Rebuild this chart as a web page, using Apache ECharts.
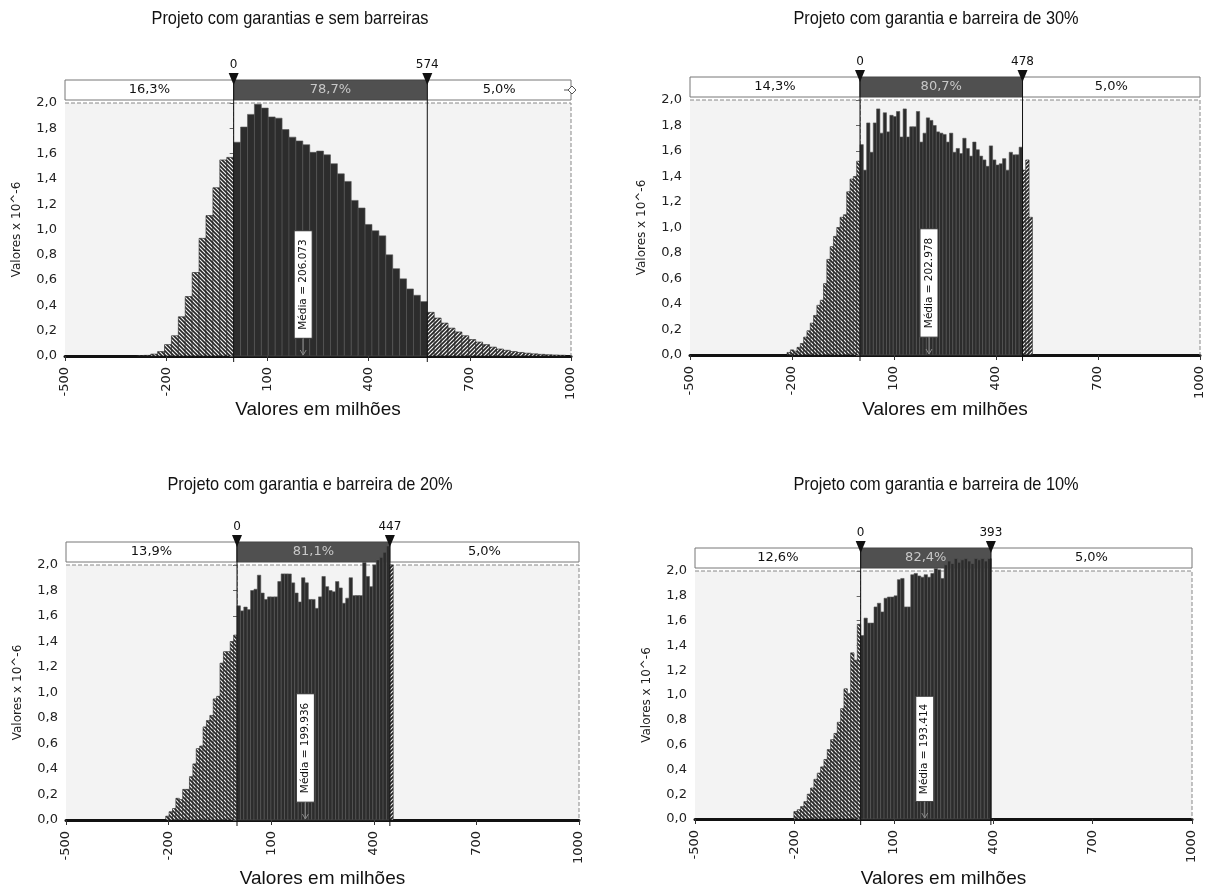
<!DOCTYPE html>
<html><head><meta charset="utf-8">
<script src="https://cdn.jsdelivr.net/npm/echarts@6/dist/echarts.min.js"></script>
<style>html,body{margin:0;padding:0;background:#fff}#c{width:1208px;height:893px}</style>
</head><body><div id="c"></div>
<script>
// ---------- DATA ----------
const titles = [
  'Projeto com garantias e sem barreiras',
  'Projeto com garantia e barreira de 30%',
  'Projeto com garantia e barreira de 20%',
  'Projeto com garantia e barreira de 10%'
];
const xAxisName = 'Valores em milhões';
const yAxisName = 'Valores x 10^-6';
const xTickValues = [-500, -200, 100, 400, 700, 1000];
const lowMarkers = [0, 0, 0, 0];
const highMarkers = [574, 478, 447, 393];
const leftPct = ['16,3%', '14,3%', '13,9%', '12,6%'];
const midPct = ['78,7%', '80,7%', '81,1%', '82,4%'];
const rightPct = ['5,0%', '5,0%', '5,0%', '5,0%'];
const means = ['206.073', '202.978', '199.936', '193.414'];
const binStarts = [-287, -214.5, -208.5, -201.6];
const binWidths = [20.5, 9.75, 9.93, 10.08];

const values1 = [0.003,0.005,0.015,0.035,0.09,0.16,0.31,0.47,0.66,0.93,1.11,1.33,1.55,1.57,
  1.69,1.81,1.91,1.99,1.96,1.89,1.88,1.79,1.73,1.70,1.67,1.61,1.62,1.59,1.52,1.44,1.38,1.23,1.17,1.04,0.99,0.95,0.80,0.69,0.61,0.53,0.48,0.43,
  0.345,0.30,0.26,0.22,0.19,0.16,0.13,0.11,0.09,0.07,0.055,0.045,0.035,0.028,0.022,0.017,0.013,0.01,0.008,0.006];
const values2 = [0.02,0.04,0.03,0.06,0.09,0.14,0.19,0.25,0.31,0.39,0.43,0.56,0.75,0.85,0.93,1.00,1.08,1.10,1.28,1.38,1.40,1.52,
  1.65,1.45,1.82,1.59,1.82,1.93,1.74,1.90,1.75,1.88,1.87,1.91,1.71,1.93,1.71,1.79,1.79,1.91,1.67,1.74,
  1.86,1.84,1.80,1.75,1.74,1.73,1.67,1.74,1.59,1.62,1.58,1.70,1.62,1.56,1.67,1.61,1.56,1.53,1.48,1.64,
  1.53,1.49,1.50,1.54,1.45,1.59,1.57,1.57,1.63,
  1.45,1.53,1.08];
const values3 = [0.03,0.065,0.09,0.17,0.16,0.24,0.24,0.34,0.44,0.56,0.58,0.73,0.78,0.82,0.95,0.97,1.23,1.32,1.32,1.40,1.45,
  1.68,1.64,1.67,1.65,1.80,1.81,1.92,1.78,1.73,1.75,1.75,1.75,1.87,1.93,1.93,1.93,1.86,1.78,1.71,1.90,1.86,1.73,1.73,1.66,
  1.75,1.91,1.83,1.80,1.79,1.87,1.82,1.70,1.74,1.90,1.76,1.76,1.76,2.02,1.91,1.83,2.0,2.04,2.06,2.10,2.15,
  2.0];
const values4 = [0.06,0.075,0.10,0.14,0.20,0.25,0.32,0.37,0.42,0.48,0.56,0.64,0.69,0.78,0.89,1.05,1.01,1.34,1.28,1.57,
  1.48,1.62,1.58,1.58,1.71,1.74,1.67,1.78,1.79,1.79,1.80,1.93,1.94,1.71,1.71,1.97,1.98,1.96,1.95,1.97,1.95,1.98,2.02,2.01,1.94,
  2.05,2.08,2.06,2.10,2.07,2.09,2.10,2.08,2.06,2.10,2.09,2.10,2.08,2.10];
const allValues = [values1, values2, values3, values4];

// ---------- LAYOUT ----------
const grids = [
  {left: 65, top: 103, width: 506, height: 253},
  {left: 690, top: 100, width: 510, height: 255},
  {left: 66, top: 565, width: 513, height: 255},
  {left: 695, top: 571, width: 497, height: 248}
];
const titlePos = [[290, 19], [936, 19], [310, 485], [936, 485]];
const xNameY = [410, 410, 879, 879];
const TFONT = "'Liberation Sans', Arial, sans-serif";
const SANS = "'DejaVu Sans', Verdana, sans-serif";

function makeHatch(back) {
  const c = document.createElement('canvas');
  c.width = 4; c.height = 4;
  const g = c.getContext('2d');
  g.fillStyle = '#262626'; g.fillRect(0, 0, 4, 4);
  g.strokeStyle = '#f2f2f2'; g.lineWidth = 1.2;
  g.beginPath();
  if (back) {
    g.moveTo(-1, -1); g.lineTo(5, 5); g.moveTo(-1, 3); g.lineTo(1, 5); g.moveTo(3, -1); g.lineTo(5, 1);
  } else {
    g.moveTo(-1, 5); g.lineTo(5, -1); g.moveTo(-1, 1); g.lineTo(1, -1); g.moveTo(3, 5); g.lineTo(5, 3);
  }
  g.stroke();
  return c;
}
const hatchBack = {image: makeHatch(true), repeat: 'repeat'};
const hatchFwd = {image: makeHatch(false), repeat: 'repeat'};

function makeRender(p) {
  const lo = lowMarkers[p], hi = highMarkers[p];
  return function (params, api) {
    const s = api.value(0), e = api.value(1), v = api.value(2);
    const segs = [];
    if (s < lo) segs.push([s, Math.min(e, lo), 'L']);
    if (e > lo && s < hi) segs.push([Math.max(s, lo), Math.min(e, hi), 'M']);
    if (e > hi) segs.push([Math.max(s, hi), e, 'R']);
    const children = [];
    segs.forEach(function (sg) {
      if (sg[1] - sg[0] <= 0) return;
      const p0 = api.coord([sg[0], v]);
      const p1 = api.coord([sg[1], 0]);
      let style;
      if (sg[2] === 'M') style = {fill: '#2c2c2c', stroke: '#565656', lineWidth: 0.6};
      else style = {fill: sg[2] === 'L' ? hatchBack : hatchFwd, stroke: '#1e1e1e', lineWidth: 0.6};
      children.push({type: 'rect', shape: {x: p0[0], y: p0[1], width: p1[0] - p0[0], height: p1[1] - p0[1]}, style: style});
    });
    return {type: 'group', children: children};
  };
}

const fmtY = v => v.toFixed(1).replace('.', ',');

const option = {
  animation: false,
  backgroundColor: '#fff',
  grid: grids.map(g => Object.assign({show: true, backgroundColor: '#f3f3f3', borderWidth: 0}, g)),
  xAxis: grids.map((g, i) => ({
    gridIndex: i, type: 'value', min: -500, max: 1000,
    axisLine: {show: true, onZero: false, lineStyle: {color: '#111', width: 3}},
    axisTick: {show: true, customValues: xTickValues, length: 5, lineStyle: {color: '#333'}},
    axisLabel: {customValues: xTickValues, formatter: v => String(v), rotate: 90, margin: 11, fontFamily: SANS, fontSize: 13, color: '#222'},
    splitLine: {show: false}
  })),
  yAxis: grids.map((g, i) => ({
    gridIndex: i, type: 'value', min: 0, max: 2, interval: 0.2,
    name: yAxisName, nameLocation: 'middle', nameGap: 42,
    nameTextStyle: {fontFamily: SANS, fontSize: 12, color: '#222'},
    axisLine: {show: true, lineStyle: {color: '#888', type: [4, 2], width: 1}},
    axisTick: {show: true, length: 4, lineStyle: {color: '#666'}},
    axisLabel: {formatter: fmtY, margin: 8, fontFamily: SANS, fontSize: 13, color: '#222'},
    splitLine: {show: false}
  })),
  series: allValues.map((vals, i) => ({
    type: 'custom', xAxisIndex: i, yAxisIndex: i, clip: false, z: 3,
    renderItem: makeRender(i),
    encode: {x: [0, 1], y: 2},
    data: vals.map((v, k) => [binStarts[i] + k * binWidths[i], binStarts[i] + (k + 1) * binWidths[i], v])
  }))
};

const chart = echarts.init(document.getElementById('c'), null, {renderer: 'canvas'});
chart.setOption(option);

// ---------- DECORATIONS via axis scales ----------
const els = [];
grids.forEach(function (g, i) {
  const px = v => chart.convertToPixel({xAxisIndex: i}, v);
  const py = v => chart.convertToPixel({yAxisIndex: i}, v);
  const left = px(-500), right = px(1000), top = py(2), base = py(0);
  const xl = px(lowMarkers[i]), xh = px(highMarkers[i]);
  const bandTop = top - 23, bandH = 20;
  // title and x-axis name
  els.push({type: 'text', z: 10, x: titlePos[i][0], y: titlePos[i][1], scaleX: 0.86,
    style: {text: titles[i], font: '19px ' + TFONT, fill: '#111', align: 'center', verticalAlign: 'middle'}});
  els.push({type: 'text', z: 10, x: (left + right) / 2, y: xNameY[i],
    style: {text: xAxisName, font: '19px ' + TFONT, fill: '#111', align: 'center', verticalAlign: 'middle'}});
  // dashed top/right border
  els.push({type: 'polyline', z: 1, shape: {points: [[left, top], [right, top], [right, base]]},
    style: {stroke: '#888', lineWidth: 1, lineDash: [4, 2], fill: null}});
  // band boxes
  els.push({type: 'rect', z: 1, shape: {x: left, y: bandTop, width: xl - left, height: bandH}, style: {fill: '#fff', stroke: '#777', lineWidth: 1}});
  els.push({type: 'rect', z: 1, shape: {x: xl, y: bandTop, width: xh - xl, height: bandH}, style: {fill: '#505050', stroke: '#444', lineWidth: 1}});
  els.push({type: 'rect', z: 1, shape: {x: xh, y: bandTop, width: right - xh, height: bandH}, style: {fill: '#fff', stroke: '#777', lineWidth: 1}});
  if (i === 0) {
    const cy = bandTop + bandH / 2;
    els.push({type: 'polygon', z: 10, shape: {points: [[right - 3, cy], [right + 1, cy - 4], [right + 5, cy], [right + 1, cy + 4]]},
      style: {fill: '#fff', stroke: '#555', lineWidth: 1}});
    els.push({type: 'line', z: 10, shape: {x1: right - 7, y1: cy, x2: right - 3, y2: cy}, style: {stroke: '#555', lineWidth: 1}});
  }
  els.push({type: 'text', z: 10, x: (left + xl) / 2, y: bandTop + bandH / 2,
    style: {text: leftPct[i], font: '13px ' + SANS, fill: '#111', align: 'center', verticalAlign: 'middle'}});
  els.push({type: 'text', z: 10, x: (xl + xh) / 2, y: bandTop + bandH / 2,
    style: {text: midPct[i], font: '13px ' + SANS, fill: '#c8c8c8', align: 'center', verticalAlign: 'middle'}});
  els.push({type: 'text', z: 10, x: (xh + right) / 2, y: bandTop + bandH / 2,
    style: {text: rightPct[i], font: '13px ' + SANS, fill: '#111', align: 'center', verticalAlign: 'middle'}});
  // markers
  [[xl, lowMarkers[i]], [xh, highMarkers[i]]].forEach(function (m) {
    els.push({type: 'line', z: 9, shape: {x1: m[0], y1: bandTop, x2: m[0], y2: base + 6}, style: {stroke: '#111', lineWidth: 1}});
    els.push({type: 'polygon', z: 10, shape: {points: [[m[0] - 5, bandTop - 7], [m[0] + 5, bandTop - 7], [m[0], bandTop + 5]]}, style: {fill: '#111'}});
    els.push({type: 'text', z: 10, x: m[0], y: bandTop - 15,
      style: {text: String(m[1]), font: '12px ' + SANS, fill: '#111', align: 'center', verticalAlign: 'middle'}});
  });
  // mean box
  const xm = px(parseFloat(means[i]));
  const yb = py(0.14), yt = py(0.99);
  els.push({type: 'rect', z: 10, shape: {x: xm - 9, y: yt, width: 18, height: yb - yt}, style: {fill: '#fff', stroke: '#333', lineWidth: 1}});
  els.push({type: 'text', z: 11, x: xm, y: (yt + yb) / 2, rotation: Math.PI / 2,
    style: {text: 'Média = ' + means[i], font: '10.5px ' + SANS, fill: '#111', align: 'center', verticalAlign: 'middle'}});
  els.push({type: 'line', z: 10, shape: {x1: xm, y1: yb, x2: xm, y2: base - 1}, style: {stroke: '#888', lineWidth: 1}});
  els.push({type: 'polyline', z: 10, shape: {points: [[xm - 3, base - 6], [xm, base - 1], [xm + 3, base - 6]]}, style: {stroke: '#888', lineWidth: 1, fill: null}});
});
chart.setOption({graphic: {elements: els}});
</script>
</body></html>
